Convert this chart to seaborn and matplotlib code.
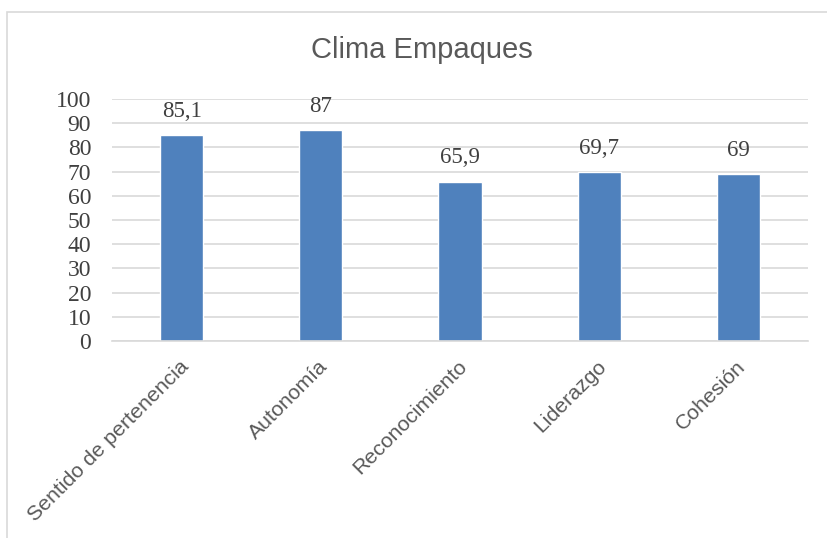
import matplotlib
matplotlib.use("Agg")
import matplotlib.pyplot as plt
import matplotlib.transforms as mtransforms
import seaborn as sns
import pandas as pd
from matplotlib.patches import Rectangle

categories = ["Sentido de pertenencia", "Autonomía", "Reconocimiento", "Liderazgo", "Cohesión"]
values = [85.1, 87, 65.9, 69.7, 69]
value_labels = ["85,1", "87", "65,9", "69,7", "69"]
yticks = [0, 10, 20, 30, 40, 50, 60, 70, 80, 90, 100]

sns.set_theme(style="white")
fig = plt.figure(figsize=(8.28, 5.38), dpi=100)
ax = fig.add_axes([112/828, 1 - 341/538, (808 - 112)/828, 242/538])

df = pd.DataFrame({"cat": categories, "val": values})
sns.barplot(data=df, x="cat", y="val", color="#4F81BD", width=0.31, ax=ax, saturation=1)

ax.set_ylim(0, 100)
ax.set_yticks(yticks)
ax.set_yticklabels([str(t) for t in yticks], fontfamily="Liberation Serif", fontsize=17, color="#404040")
ax.yaxis.grid(True, color="#D9D9D9", linewidth=1.2)
ax.set_axisbelow(True)
for s in ["top", "right", "left"]:
    ax.spines[s].set_visible(False)
ax.spines["bottom"].set_color("#D9D9D9")
ax.spines["bottom"].set_linewidth(1.2)
ax.tick_params(axis="y", length=0, pad=15)
ax.tick_params(axis="x", length=0, pad=16)
ax.set_xlabel("")
ax.set_ylabel("")
ax.set_xticks(range(len(categories)))
ax.set_xticklabels(categories, rotation=45, ha="right", va="center", rotation_mode="anchor",
                   fontfamily="Liberation Sans", fontsize=15.3, color="#595959")
offset = mtransforms.ScaledTranslation(4/100, 0, fig.dpi_scale_trans)
for lbl in ax.get_xticklabels():
    lbl.set_transform(lbl.get_transform() + offset)

for i, (v, lab) in enumerate(zip(values, value_labels)):
    ax.annotate(lab, (i, v), xytext=(0, 17), textcoords="offset points",
                ha="center", va="center", fontfamily="Liberation Serif",
                fontsize=16.5, color="#404040")

fig.text(422/828, 1 - 50/538, "Clima Empaques", ha="center", va="center",
         fontfamily="Liberation Sans", fontsize=21, color="#595959")

fig.patches.append(Rectangle((7/828, -0.1), 1.2, 1 - 12/538 + 0.1, transform=fig.transFigure,
                             fill=False, edgecolor="#D9D9D9", linewidth=1.2))

fig.savefig("out.png", dpi=100)
